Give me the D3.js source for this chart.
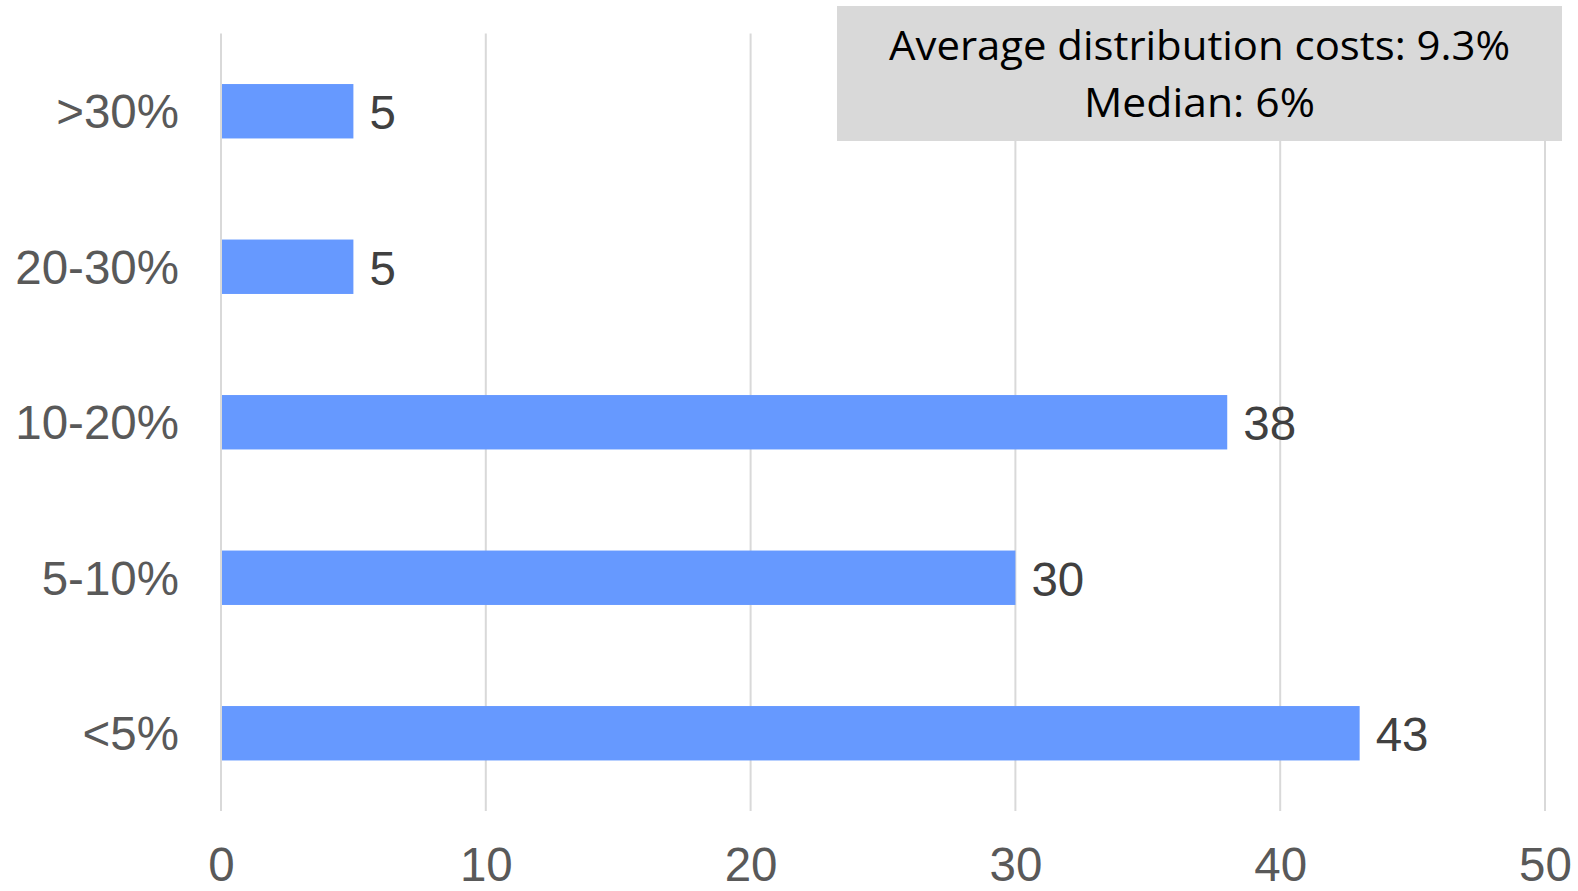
<!DOCTYPE html>
<html>
<head>
<meta charset="utf-8">
<script src="https://cdn.jsdelivr.net/npm/d3@7"></script>
<style>
  html, body { margin: 0; padding: 0; background: #fff; }
  svg { display: block; }
</style>
</head>
<body>
<svg id="chart" width="1578" height="891"></svg>
<script>
// Distribution cost buckets (top to bottom) and number of respondents in each
const categories = [">30%", "20-30%", "10-20%", "5-10%", "<5%"];
const counts = [5, 5, 38, 30, 43];
const xTicks = [0, 10, 20, 30, 40, 50];
const summaryLines = ["Average distribution costs: 9.3%", "Median: 6%"];

const W = 1578, H = 891;
const margin = { left: 221, right: 33, top: 33.5, bottom: 80 };
const labelFont = "Liberation Sans, Arial, sans-serif";
const labelSize = 47.5;

const svg = d3.select("#chart");

const x = d3.scaleLinear()
  .domain([0, 50])
  .range([margin.left, W - margin.right]);

const y = d3.scaleBand()
  .domain(categories)
  .range([margin.top, H - margin.bottom])
  .paddingInner(0.65)
  .paddingOuter(0.325);

const gridBottom = H - margin.bottom;

// vertical gridlines
svg.append("g")
  .selectAll("line")
  .data(xTicks)
  .join("line")
  .attr("x1", d => x(d)).attr("x2", d => x(d))
  .attr("y1", margin.top).attr("y2", gridBottom)
  .attr("stroke", "#d9d9d9")
  .attr("stroke-width", 2);

// bars
svg.append("g")
  .selectAll("rect")
  .data(categories)
  .join("rect")
  .attr("x", x(0) + 1)
  .attr("y", d => y(d))
  .attr("width", (d, i) => x(counts[i]) - x(0) - 1)
  .attr("height", y.bandwidth())
  .attr("fill", "#6699ff");

// value labels
svg.append("g")
  .selectAll("text")
  .data(categories)
  .join("text")
  .attr("x", (d, i) => x(counts[i]) + 16)
  .attr("y", d => y(d) + y.bandwidth() / 2)
  .attr("dy", "0.38em")
  .attr("font-family", labelFont)
  .attr("font-size", labelSize)
  .attr("fill", "#404040")
  .text((d, i) => counts[i]);

// category axis labels
const yAxis = d3.axisLeft(y).tickSize(0).tickPadding(42);
const gy = svg.append("g")
  .attr("transform", `translate(${margin.left},0)`)
  .call(yAxis);
gy.select(".domain").remove();
gy.selectAll("text")
  .attr("font-family", labelFont)
  .attr("font-size", labelSize)
  .attr("fill", "#595959")
  .attr("dy", "0.36em");

// value axis labels
const xAxis = d3.axisBottom(x).tickValues(xTicks).tickSize(0).tickPadding(36);
const gx = svg.append("g")
  .attr("transform", `translate(0,${gridBottom})`)
  .call(xAxis);
gx.select(".domain").remove();
gx.selectAll("text")
  .attr("font-family", labelFont)
  .attr("font-size", labelSize)
  .attr("fill", "#595959");

// summary box
const boxX = 837, boxW = 725;
const box = svg.append("g");
box.append("rect")
  .attr("x", boxX).attr("y", 6)
  .attr("width", boxW).attr("height", 135)
  .attr("fill", "#d9d9d9");
const lineWidths = [621, 231];
box.selectAll("text")
  .data(summaryLines)
  .join("text")
  .attr("x", boxX + boxW / 2)
  .attr("y", (d, i) => 59.5 + i * 57)
  .attr("text-anchor", "middle")
  .attr("font-family", "Open Sans, sans-serif")
  .attr("font-size", 41)
  .attr("textLength", (d, i) => lineWidths[i])
  .attr("lengthAdjust", "spacingAndGlyphs")
  .attr("fill", "#000")
  .text(d => d);
</script>
</body>
</html>
